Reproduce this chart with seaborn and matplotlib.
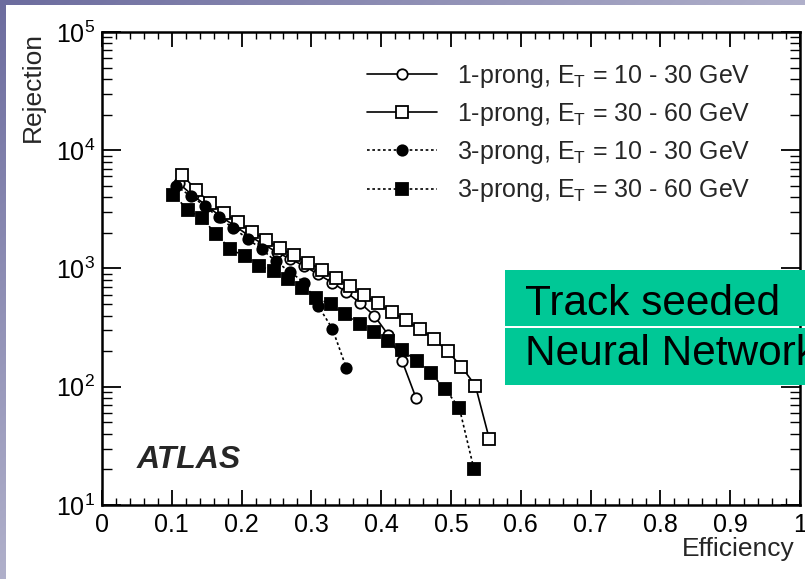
import numpy as np
import pandas as pd
import matplotlib
matplotlib.use("Agg")
import matplotlib.pyplot as plt
from matplotlib.patches import Rectangle
from matplotlib.ticker import MultipleLocator, LogLocator, NullFormatter, FuncFormatter
import seaborn as sns

# ---- data: tau identification rejection vs. efficiency ----
eff_1p_low = [0.11, 0.13, 0.15, 0.17, 0.19, 0.21, 0.23, 0.25, 0.27, 0.29,
              0.31, 0.33, 0.35, 0.37, 0.39, 0.41, 0.43, 0.45]
rej_1p_low = [5250, 4150, 3400, 2750, 2300, 1900, 1620, 1380, 1200, 1050,
              890, 760, 630, 510, 400, 275, 165, 80]

eff_1p_high = [0.115, 0.135, 0.155, 0.175, 0.195, 0.215, 0.235, 0.255, 0.275, 0.295,
               0.315, 0.335, 0.355, 0.375, 0.395, 0.415, 0.435, 0.455, 0.475, 0.495,
               0.515, 0.535, 0.555]
rej_1p_high = [6200, 4600, 3600, 2950, 2450, 2050, 1750, 1480, 1290, 1120,
               980, 830, 710, 600, 510, 430, 365, 310, 255, 200,
               148, 102, 36]

eff_3p_low = [0.106, 0.127, 0.147, 0.167, 0.188, 0.209, 0.229, 0.249, 0.270, 0.290,
              0.310, 0.330, 0.350]
rej_3p_low = [5000, 4100, 3400, 2700, 2200, 1780, 1450, 1150, 930, 760,
              480, 310, 145]

eff_3p_high = [0.102, 0.123, 0.143, 0.164, 0.184, 0.205, 0.225, 0.246, 0.266, 0.287,
               0.307, 0.328, 0.348, 0.369, 0.389, 0.410, 0.430, 0.451, 0.471, 0.492,
               0.512, 0.533]
rej_3p_high = [4200, 3150, 2650, 1950, 1450, 1270, 1050, 950, 810, 690,
               560, 500, 410, 340, 290, 245, 205, 165, 130, 95,
               66, 20]

labels = [r"1-prong, E$_{T}$ = 10 - 30 GeV",
          r"1-prong, E$_{T}$ = 30 - 60 GeV",
          r"3-prong, E$_{T}$ = 10 - 30 GeV",
          r"3-prong, E$_{T}$ = 30 - 60 GeV"]

x_ticks = [0, 0.1, 0.2, 0.3, 0.4, 0.5, 0.6, 0.7, 0.8, 0.9, 1.0]

sns.set_theme(style="ticks")
plt.rcParams["font.family"] = ["Liberation Sans", "DejaVu Sans"]
plt.rcParams["mathtext.default"] = "regular"

W, H = 805, 579
fig = plt.figure(figsize=(W / 100, H / 100), dpi=100)

# slide background: bluish gradient frame with white page
bg = fig.add_axes([0, 0, 1, 1], zorder=-10)
yy, xx = np.mgrid[0:H, 0:W]
t = np.clip(0.85 * xx / W + 0.85 * yy / H, 0, 1)[..., None]
dark = np.array([108, 108, 158]) / 255
light = np.array([188, 188, 210]) / 255
grad = dark + (light - dark) * t
bg.imshow(grad, extent=[0, 1, 0, 1], aspect="auto")
bg.add_patch(Rectangle((6 / W, 0), 1, 1 - 5 / H, facecolor="white",
                       edgecolor="none", transform=bg.transAxes))
bg.set_xlim(0, 1)
bg.set_ylim(0, 1)
bg.axis("off")

ax = fig.add_axes([102 / W, 74 / H, 698 / W, 473 / H])
ax.set_facecolor("white")

series = [
    (eff_1p_low, rej_1p_low, "-", "o", "white", 7.5),
    (eff_1p_high, rej_1p_high, "-", "s", "white", 8.0),
    (eff_3p_low, rej_3p_low, (0, (1.6, 1.6)), "o", "black", 7.5),
    (eff_3p_high, rej_3p_high, (0, (1.6, 1.6)), "s", "black", 8.0),
]
for (ex, ry, ls, mk, fc, ms), lab in zip(series, labels):
    df = pd.DataFrame({"Efficiency": ex, "Rejection": ry})
    sns.lineplot(data=df, x="Efficiency", y="Rejection", ax=ax, sort=False,
                 estimator=None, color="black", linestyle=ls, linewidth=1.2,
                 marker=mk, markersize=ms, markerfacecolor=fc,
                 markeredgecolor="black", markeredgewidth=1.3, label=lab)

ax.set_yscale("log")
ax.set_xlim(0, 1)
ax.set_ylim(10, 1e5)
ax.set_xticks(x_ticks)
ax.xaxis.set_major_formatter(FuncFormatter(lambda v, p: f"{v:g}"))
ax.xaxis.set_minor_locator(MultipleLocator(0.02))
ax.yaxis.set_minor_locator(LogLocator(base=10, subs=np.arange(2, 10)))
ax.yaxis.set_minor_formatter(NullFormatter())

ax.tick_params(axis="both", which="both", direction="in", top=True, right=True,
               colors="black", labelsize=18)
ax.tick_params(axis="x", which="major", length=11, width=1.3, pad=6)
ax.tick_params(axis="x", which="minor", length=5, width=1.0)
ax.tick_params(axis="y", which="major", length=14, width=1.3, pad=5)
ax.tick_params(axis="y", which="minor", length=7, width=1.0)
for sp in ax.spines.values():
    sp.set_linewidth(1.8)
    sp.set_color("black")

ax.set_xlabel("Efficiency", loc="right", fontsize=19)
ax.set_ylabel("Rejection", loc="top", fontsize=19)
ax.xaxis.set_label_coords(0.993, -0.068)
ax.yaxis.set_label_coords(-0.082, 1.0)

ax.legend(loc="upper left", bbox_to_anchor=(0.38, 0.935), frameon=False,
          fontsize=18, handlelength=2.8, handletextpad=0.8, labelspacing=0.45,
          borderaxespad=0, borderpad=0)

ax.text(0.05, 0.078, "ATLAS", transform=ax.transAxes, fontsize=23,
        fontweight="bold", fontstyle="italic", ha="left", va="baseline")

# overlay label boxes
ov = fig.add_axes([0, 0, 1, 1], zorder=10)
ov.set_xlim(0, W)
ov.set_ylim(H, 0)
ov.axis("off")
green = "#00C896"
ov.add_patch(Rectangle((505, 270), 320, 56, facecolor=green, edgecolor="none"))
ov.add_patch(Rectangle((505, 328), 320, 57, facecolor=green, edgecolor="none"))
ov.text(525, 315, "Track seeded", fontsize=30.5, color="black", ha="left", va="baseline")
ov.text(525, 365, "Neural Network", fontsize=30.5, color="black", ha="left", va="baseline")

fig.savefig("out.png", dpi=100)
